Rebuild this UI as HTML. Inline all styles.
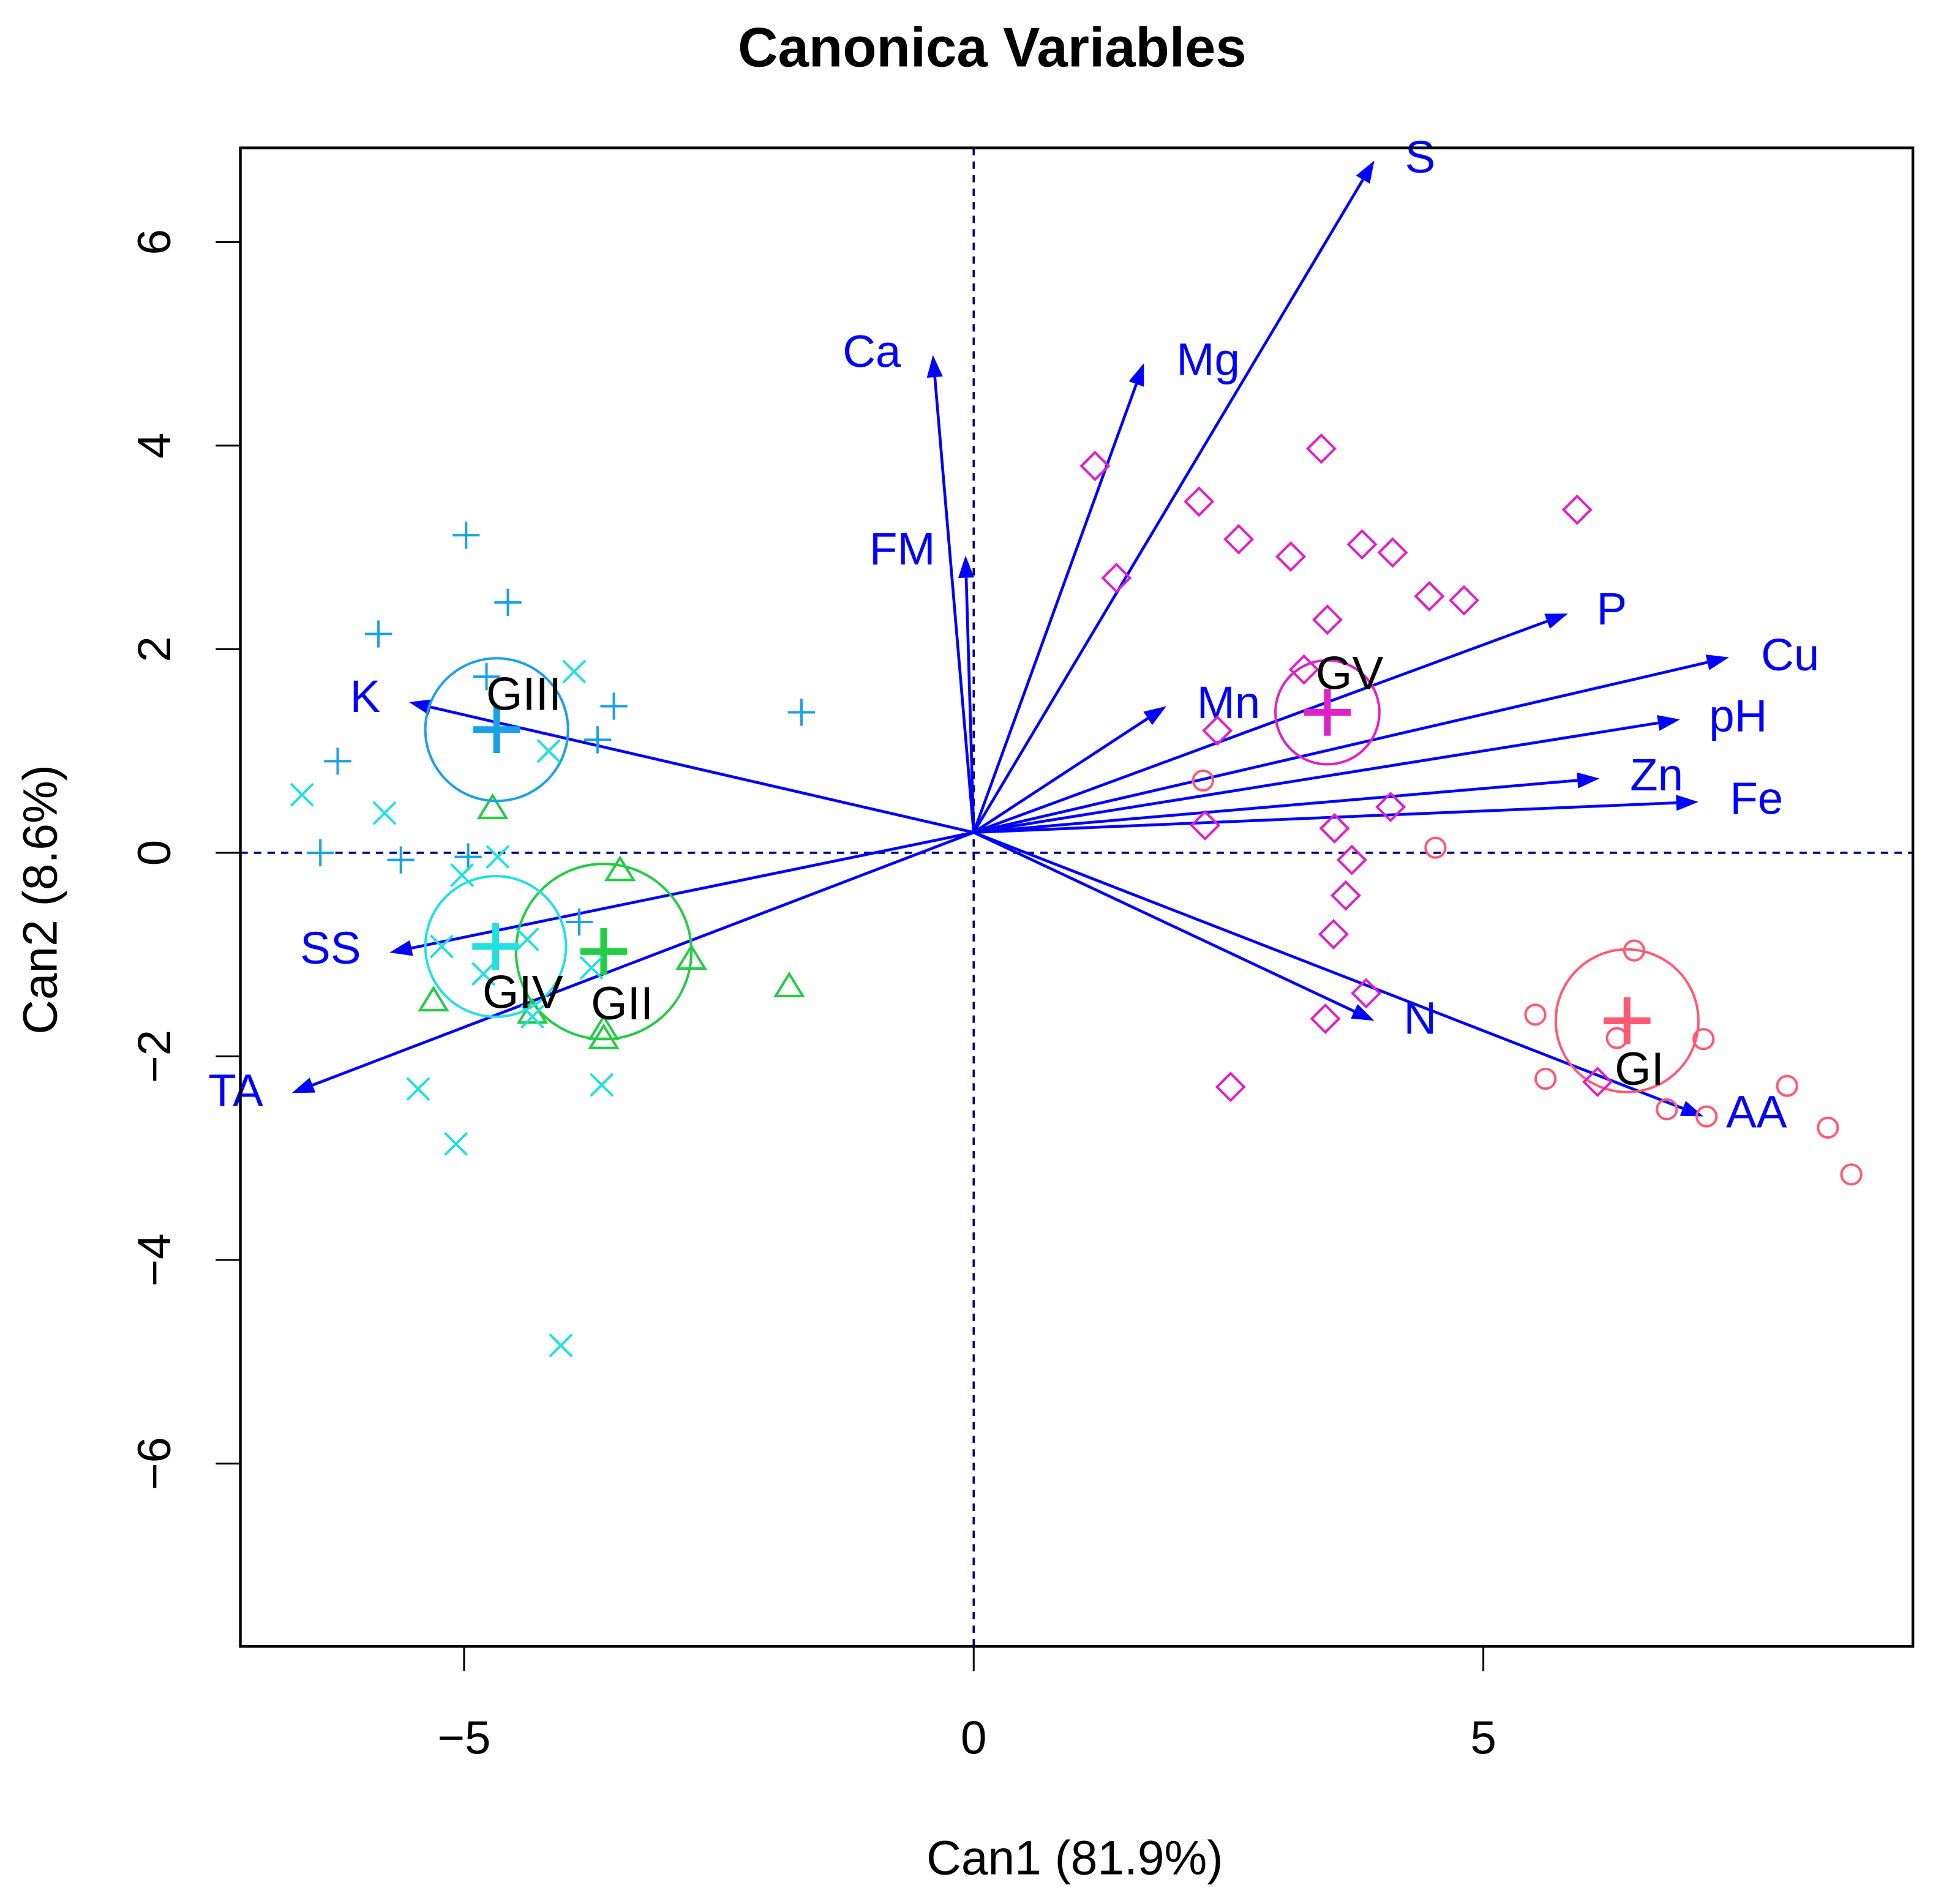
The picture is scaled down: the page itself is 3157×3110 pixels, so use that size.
<!DOCTYPE html>
<html><head><meta charset="utf-8"><style>
html,body{margin:0;padding:0;background:#fff;}
svg{display:block;}
text{font-family:"Liberation Sans",Arial,sans-serif;}
</style></head><body>
<svg id="chart" width="3157" height="3110" viewBox="0 0 1568.3 1545" xmlns="http://www.w3.org/2000/svg">
<rect x="0" y="0" width="1568.3" height="1545" fill="#fff"/>
<text x="805" y="54" text-anchor="middle" font-size="45" font-weight="bold">Canonica Variables</text>
<text x="872" y="1521" text-anchor="middle" font-size="39">Can1 (81.9%)</text>
<text transform="translate(46,730) rotate(-90)" text-anchor="middle" font-size="39">Can2 (8.6%)</text>
<g id="axes"></g>
<g id="arrows"></g>
<g id="groups"></g>
<rect x="195" y="120" width="1357" height="1216" fill="none" stroke="#000" stroke-width="2.2"/>
</svg>
<script>
const xTicks = [-5, 0, 5];
const yTicks = [-6, -4, -2, 0, 2, 4, 6];
const varNames = ["S","Mg","Ca","FM","Mn","P","Cu","pH","Zn","Fe","N","AA","K","SS","TA"];
const varX = [3.93,1.67,-0.40,-0.08,1.89,5.83,7.41,6.93,6.14,7.11,3.93,7.16,-5.54,-5.73,-6.69];
const varY = [6.80,4.81,4.89,2.92,1.44,2.35,1.92,1.31,0.73,0.50,-1.65,-2.59,1.48,-0.98,-2.36];
const labelX = [4.38,2.30,-1.00,-0.70,2.50,6.26,8.01,7.50,6.70,7.68,4.38,7.68,-5.97,-6.31,-7.24];
const labelY = [6.84,4.85,4.93,2.99,1.48,2.40,1.95,1.35,0.77,0.54,-1.62,-2.54,1.54,-0.93,-2.33];
const arrowOrigin = [0, 0.2];
const groupNames = ["GI","GII","GIII","GIV","GV"];
const groupCenterX = [6.41,-3.63,-4.68,-4.69,3.47];
const groupCenterY = [-1.65,-0.97,1.21,-0.92,1.38];
const groupRadius = [0.70,0.86,0.70,0.69,0.51];
const giX = [6.48,5.51,5.61,6.31,7.16,6.80,7.19,7.98,8.38,8.61,4.53,2.25];
const giY = [-0.96,-1.59,-2.22,-1.82,-1.83,-2.52,-2.59,-2.29,-2.70,-3.16,0.05,0.71];
const giiX = [-4.72,-3.47,-2.77,-1.81,-5.30,-3.63,-3.63,-4.33];
const giiY = [0.44,-0.17,-1.04,-1.31,-1.45,-1.73,-1.82,-1.57];
const giiiX = [-4.98,-4.57,-5.84,-1.69,-3.53,-3.69,-4.78,-6.24,-6.41,-5.62,-4.96,-3.87];
const giiiY = [3.12,2.46,2.15,1.38,1.44,1.11,1.73,0.90,0.0,-0.07,-0.04,-0.68];
const givX = [-6.59,-5.78,-3.92,-4.17,-4.67,-5.02,-5.22,-4.81,-4.38,-4.33,-3.65,-5.45,-5.08,-4.05,-3.75];
const givY = [0.57,0.39,1.78,1.00,-0.04,-0.22,-0.92,-1.19,-0.85,-1.61,-2.28,-2.32,-2.86,-4.84,-1.13];
const gvX = [1.19,3.41,1.40,2.21,2.60,3.11,3.81,4.11,5.92,4.47,4.81,3.47,3.24,2.39,2.27,3.54,4.09,3.71,3.65,3.53,3.85,3.45,2.52,6.12];
const gvY = [3.80,3.97,2.70,3.45,3.08,2.91,3.03,2.95,3.37,2.52,2.48,2.29,1.80,1.20,0.27,0.24,0.45,-0.07,-0.42,-0.80,-1.38,-1.63,-2.30,-2.25];

const NS = "http://www.w3.org/2000/svg";
const X = v => 790 + 82.7 * v;
const Y = v => 692 - 82.6 * v;
const XL = 195, XR = 1552, YT = 120, YB = 1336;
function mk(tag, attrs, parent){ const e=document.createElementNS(NS,tag); for(const k in attrs) e.setAttribute(k,attrs[k]); parent.appendChild(e); return e; }

const axes = document.getElementById('axes');
xTicks.forEach(t=>{
  const l = mk('line',{x1:X(t),x2:X(t),y1:YB,y2:YB+20,stroke:'#000','stroke-width':1.5},axes);
  
  
  const tx = mk('text',{x:X(t),y:YB+87,'text-anchor':'middle','font-size':38},axes);
  tx.textContent = t===-5? '\u22125' : String(t);
  
  
});
yTicks.forEach(t=>{
  const l = mk('line',{x1:XL-20,x2:XL,y1:Y(t),y2:Y(t),stroke:'#000','stroke-width':1.5},axes);
  
  
  const tx = mk('text',{transform:`translate(${XL-57},${Y(t)}) rotate(-90)`,'text-anchor':'middle','font-size':38},axes);
  tx.textContent = t<0? '\u2212'+Math.abs(t) : String(t);
  
  
});
const hz = mk('line',{x1:XL,x2:XR,y1:Y(0),y2:Y(0),stroke:'#000080','stroke-width':1.8,'stroke-dasharray':'6,5'},axes);


const vt = mk('line',{x1:X(0),x2:X(0),y1:YT,y2:YB,stroke:'#000080','stroke-width':1.8,'stroke-dasharray':'6,5'},axes);



const arrows = document.getElementById('arrows');
const ox = X(arrowOrigin[0]), oy = Y(arrowOrigin[1]);
varNames.forEach((n,i)=>{
  const tx=X(varX[i]), ty=Y(varY[i]);
  const g = mk('g',{},arrows);
  
  
  const ang = Math.atan2(ty-oy, tx-ox);
  const L=18, W=6.5;
  const bx = tx - L*Math.cos(ang), by = ty - L*Math.sin(ang);
  mk('line',{x1:ox,y1:oy,x2:bx,y2:by,stroke:'#0000ff','stroke-width':2.3},g);
  const px=-Math.sin(ang), py=Math.cos(ang);
  mk('polygon',{points:`${tx},${ty} ${bx+W*px},${by+W*py} ${bx-W*px},${by-W*py}`,fill:'#0000ff'},g);
  const t = mk('text',{x:X(labelX[i]),y:Y(labelY[i])+13,'text-anchor':'middle','font-size':37,fill:'#0000ff'},g);
  t.textContent = n;
  
  
});

const groups = document.getElementById('groups');
const colors = ['#ff5a73','#22cc44','#1aa0e8','#22e0e0','#e020c8'];
const xs=[giX,giiX,giiiX,givX,gvX], ys=[giY,giiY,giiiY,givY,gvY];
const shapes=['circle','triangle','plus','cross','diamond'];
const labelOff=[[10,52],[15,55],[22,-16],[22,50],[18,-19]];
function marker(shape,cx,cy,col,g){
  const s=9;
  if(shape==='circle') return mk('circle',{cx:cx,cy:cy,r:8,fill:'none',stroke:col,'stroke-width':2},g);
  if(shape==='triangle') return mk('polygon',{points:`${cx},${cy-10} ${cx-11},${cy+8} ${cx+11},${cy+8}`,fill:'none',stroke:col,'stroke-width':2},g);
  if(shape==='plus') return mk('path',{d:`M${cx-s-2},${cy}H${cx+s+2}M${cx},${cy-s-2}V${cy+s+2}`,stroke:col,'stroke-width':2},g);
  if(shape==='cross') return mk('path',{d:`M${cx-s},${cy-s}L${cx+s},${cy+s}M${cx-s},${cy+s}L${cx+s},${cy-s}`,stroke:col,'stroke-width':2},g);
  return mk('polygon',{points:`${cx},${cy-11} ${cx+11},${cy} ${cx},${cy+11} ${cx-11},${cy}`,fill:'none',stroke:col,'stroke-width':2},g);
}
groupNames.forEach((gn,k)=>{
  const g = mk('g',{},groups);
  
  
  xs[k].forEach((v,i)=>{
    const m = marker(shapes[k],X(v),Y(ys[k][i]),colors[k],g);
    
    
  });
  const cx=X(groupCenterX[k]), cy=Y(groupCenterY[k]);
  const c = mk('circle',{cx:cx,cy:cy,r:groupRadius[k]*82.7,fill:'none',stroke:colors[k],'stroke-width':2},g);
  
  
  const p = mk('path',{d:`M${cx-19},${cy}H${cx+19}M${cx},${cy-19}V${cy+19}`,stroke:colors[k],'stroke-width':5.5},g);
  
  
  const t = mk('text',{x:cx+labelOff[k][0],y:cy+labelOff[k][1],'text-anchor':'middle','font-size':38,fill:'#000'},g);
  t.textContent = gn;
  
  
});
</script>
</body></html>
